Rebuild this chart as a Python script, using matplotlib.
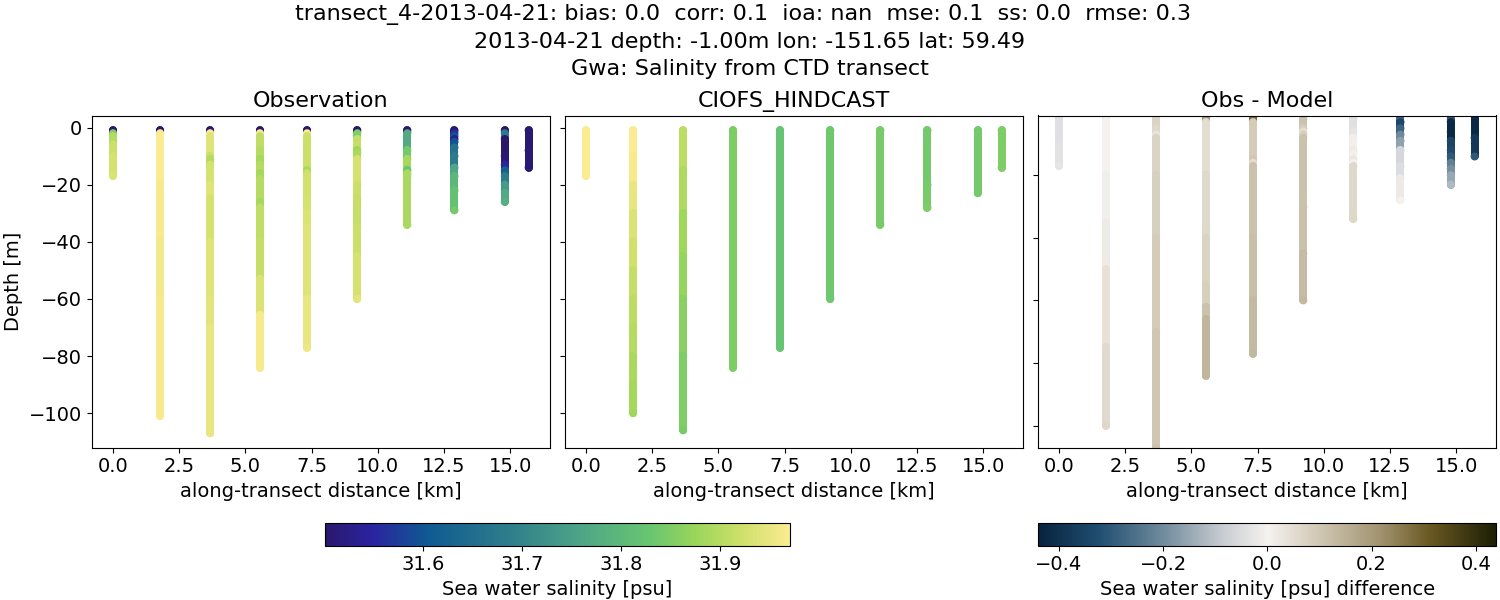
#!/usr/bin/env python

import matplotlib
matplotlib.use("Agg")
import matplotlib.pyplot as plt
from matplotlib.cm import ScalarMappable
from matplotlib.collections import LineCollection
from matplotlib.colors import LinearSegmentedColormap, Normalize

# along-transect position of each cast [km]
station_km = [0.0, 1.78, 3.67, 5.55, 7.33, 9.23, 11.12, 12.9, 14.8, 15.7]

# observation casts: depth readings and salinity
obs_depth = [
    [-1, -2, -3, -6, -10, -17],
    [-1, -2, -20, -40, -60, -101],
    [-1, -2, -3, -10, -11, -13, -20, -25, -40, -60, -70, -107],
    [-1, -2, -3, -8, -11, -13, -16, -18, -26, -28, -40, -53, -65.5, -84],
    [-1, -2, -3, -15, -16, -17, -25, -30, -35, -60, -77],
    [-1, -2, -4, -8, -9, -11, -20, -25, -35, -45, -60],
    [-1, -2, -8, -11, -15, -16, -17, -34],
    [-1, -2, -3, -4, -5, -7, -10, -14, -17, -22, -29],
    [-1, -2, -4, -10, -13, -15, -17, -20, -23, -26],
    [-1, -8, -14],
]
obs_sal = [
    [31.50, 31.85, 31.90, 31.92, 31.93, 31.935],
    [31.50, 31.97, 31.965, 31.96, 31.965, 31.965],
    [31.50, 31.97, 31.94, 31.92, 31.90, 31.93, 31.94, 31.93, 31.94, 31.945, 31.95, 31.95],
    [31.50, 31.97, 31.91, 31.90, 31.885, 31.90, 31.885, 31.90, 31.885, 31.91, 31.915, 31.935, 31.965, 31.965],
    [31.50, 31.97, 31.92, 31.89, 31.92, 31.925, 31.93, 31.935, 31.94, 31.95, 31.955],
    [31.50, 31.85, 31.915, 31.88, 31.89, 31.93, 31.92, 31.915, 31.92, 31.93, 31.945],
    [31.50, 31.77, 31.84, 31.885, 31.83, 31.89, 31.89, 31.89],
    [31.50, 31.56, 31.60, 31.53, 31.60, 31.66, 31.68, 31.76, 31.80, 31.82, 31.84],
    [31.50, 31.68, 31.50, 31.51, 31.55, 31.62, 31.68, 31.74, 31.77, 31.78],
    [31.505, 31.51, 31.505],
]

# model casts
model_depth = [
    [-1, -17],
    [-1, -10, -20, -30, -40, -50, -60, -70, -80, -90, -100],
    [-1, -15, -30, -45, -60, -80, -106],
    [-1, -84],
    [-1, -77],
    [-1, -60],
    [-1, -34],
    [-1, -20, -28],
    [-1, -23],
    [-1, -14],
]
model_sal = [
    [31.97, 31.97],
    [31.97, 31.965, 31.95, 31.935, 31.925, 31.915, 31.905, 31.90, 31.89, 31.885, 31.88],
    [31.905, 31.895, 31.88, 31.87, 31.86, 31.85, 31.845],
    [31.849, 31.849],
    [31.825, 31.825],
    [31.835, 31.835],
    [31.845, 31.845],
    [31.84, 31.845, 31.85],
    [31.84, 31.84],
    [31.85, 31.85],
]

# obs minus model, read at its own depths
diff_depth = [
    [-1, -2, -10, -17],
    [-1, -2, -20, -35, -50, -75, -100],
    [-1, -2, -5, -7, -8, -20, -40, -70, -107],
    [-1, -2, -3, -20, -40, -55, -62, -66, -84],
    [-1, -2, -3, -15, -16, -17, -40, -60, -77],
    [-1, -2, -5, -6, -7, -8, -30, -45, -60],
    [-1, -2, -6, -8, -12, -13, -15, -16, -17, -34],
    [-1, -3, -5, -7, -9, -12, -17, -21, -28],
    [-1, -2, -3, -6, -9, -12, -14, -16, -18, -20, -23],
    [-1, -8, -14],
]
diff_sal = [
    [-0.10, -0.04, -0.035, -0.03],
    [0.25, 0.0, 0.01, 0.02, 0.04, 0.055, 0.065],
    [0.10, 0.07, 0.065, 0.03, 0.07, 0.08, 0.09, 0.10, 0.11],
    [0.30, 0.20, 0.05, 0.06, 0.07, 0.08, 0.11, 0.14, 0.14],
    [0.36, 0.28, 0.09, 0.10, 0.05, 0.11, 0.12, 0.13, 0.135],
    [0.02, 0.11, 0.09, 0.05, 0.08, 0.11, 0.115, 0.125, 0.135],
    [-0.10, -0.04, -0.03, 0.01, 0.02, 0.01, 0.03, 0.0, 0.06, 0.065],
    [-0.28, -0.34, -0.28, -0.20, -0.16, -0.06, -0.05, -0.02, 0.0],
    [-0.20, -0.30, -0.42, -0.42, -0.35, -0.33, -0.30, -0.22, -0.19, -0.15, -0.12],
    [-0.42, -0.38, -0.30],
]

depth_ticks = [0, -20, -40, -60, -80, -100]
sal_ticks = [31.6, 31.7, 31.8, 31.9]
diff_ticks = [-0.4, -0.2, 0.0, 0.2, 0.4]

# cmocean is not installed, so haline and diff are rebuilt by eye
haline = LinearSegmentedColormap.from_list("haline", [
    (0.0, "#2a186c"), (0.1, "#2a23a0"), (0.22, "#0f5a92"), (0.4, "#2f7e8b"),
    (0.55, "#4ea488"), (0.7, "#68c670"), (0.8, "#9bd65a"), (0.9, "#cfe06a"),
    (1.0, "#fbeb92"),
])
diff = LinearSegmentedColormap.from_list("diff", [
    (0.0, "#08233e"), (0.13, "#1f4e70"), (0.27, "#6f8a9c"), (0.4, "#c7cbd0"),
    (0.5, "#f5f2f0"), (0.6, "#d5cdbb"), (0.75, "#a0926f"), (0.85, "#6d5b25"),
    (1.0, "#1c1e04"),
])

sal_norm = Normalize(31.501, 31.9707)
diff_norm = Normalize(-0.4395, 0.4395)

plt.rcParams["font.size"] = 14
W, H = 1500.0, 600.0


def px_axes(fig, left, top, right, bottom):
    return fig.add_axes([left / W, 1 - bottom / H, (right - left) / W, (bottom - top) / H])


def draw_casts(ax, depths, values, cmap, norm):
    for km, depth, vals in zip(station_km, depths, values):
        # each reading colours the column down to the next one
        segs = [[(km, depth[i]), (km, depth[i + 1])] for i in range(len(depth) - 1)]
        lines = LineCollection(segs, cmap=cmap, norm=norm, linewidths=5.76,
                               capstyle="round", zorder=2)
        lines.set_array(vals[:-1])
        ax.add_collection(lines)
        # dots go on top, deeper ones over shallower ones
        ax.scatter([km] * len(depth), depth, c=vals, cmap=cmap, norm=norm,
                   s=33, linewidths=0, zorder=2.1)


fig = plt.figure(figsize=(15, 6), dpi=100)

ax1 = px_axes(fig, 91.8, 115.5, 549.8, 447.5)
ax2 = px_axes(fig, 564.8, 115.5, 1022.8, 447.5)
ax3 = px_axes(fig, 1037.8, 115.5, 1495.8, 447.5)

draw_casts(ax1, obs_depth, obs_sal, haline, sal_norm)
draw_casts(ax2, model_depth, model_sal, haline, sal_norm)
draw_casts(ax3, diff_depth, diff_sal, diff, diff_norm)

ax1.set_title("Observation", fontsize=16)
ax2.set_title("CIOFS_HINDCAST", fontsize=16)
ax3.set_title("Obs - Model", fontsize=16)

for ax in (ax1, ax2, ax3):
    ax.set_xlim(-0.8, 16.5)
    ax.set_xlabel("along-transect distance [km]")
    ax.set_yticks(depth_ticks)

ax1.set_ylim(-112, 4.2)
ax2.set_ylim(-112, 4.2)
ax3.set_ylim(-107, -0.9)
ax1.set_ylabel("Depth [m]")
ax2.set_yticklabels([])
ax3.set_yticklabels([])

cax1 = px_axes(fig, 324.8, 522.5, 789.8, 545.5)
cb1 = fig.colorbar(ScalarMappable(norm=sal_norm, cmap=haline), cax=cax1, orientation="horizontal")
cb1.set_ticks(sal_ticks)
cb1.set_label("Sea water salinity [psu]")

cax2 = px_axes(fig, 1038.3, 522.5, 1496.3, 545.5)
cb2 = fig.colorbar(ScalarMappable(norm=diff_norm, cmap=diff), cax=cax2, orientation="horizontal")
cb2.set_ticks(diff_ticks)
cb2.set_label("Sea water salinity [psu] difference")

fig.suptitle(
    "transect_4-2013-04-21: bias: 0.0  corr: 0.1  ioa: nan  mse: 0.1  ss: 0.0  rmse: 0.3  \n"
    "2013-04-21 depth: -1.00m lon: -151.65 lat: 59.49\n"
    "Gwa: Salinity from CTD transect",
    fontsize=16, y=0.993, linespacing=1.43,
)

fig.savefig("out.png", dpi=100)
